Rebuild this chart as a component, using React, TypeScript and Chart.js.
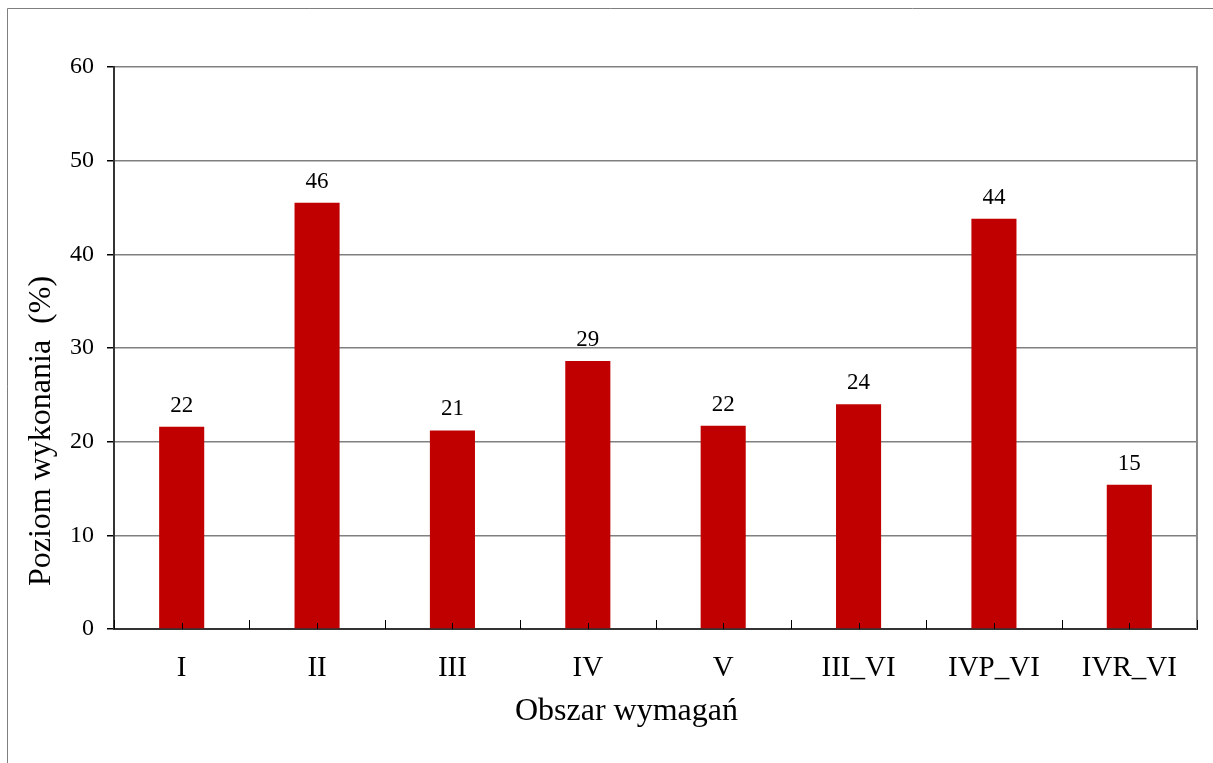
import React, { useEffect, useRef } from "react";
import { Chart, registerables } from "chart.js";

Chart.register(...registerables);

const categories = ["I", "II", "III", "IV", "V", "III_VI", "IVP_VI", "IVR_VI"];
const values = [21.6, 45.5, 21.2, 28.6, 21.7, 24.0, 43.8, 15.4];
const yMin = 0;
const yMax = 60;
const yStep = 10;
const xTitle = "Obszar wymagań";
const yTitle = "Poziom wykonania  (%)";

const FONT = "'Liberation Serif', 'Times New Roman', serif";
const BAR_COLOR = "#C00000";

const decorPlugin = {
  id: "decor",
  beforeDraw(chart: any) {
    const { ctx, width, height } = chart;
    ctx.save();
    ctx.fillStyle = "#ffffff";
    ctx.fillRect(0, 0, width, height);
    ctx.strokeStyle = "#7f7f7f";
    ctx.lineWidth = 1;
    ctx.beginPath();
    ctx.moveTo(7.5, height + 5);
    ctx.lineTo(7.5, 8.5);
    ctx.lineTo(width + 5, 8.5);
    ctx.stroke();
    ctx.restore();
  },
  afterDraw(chart: any) {
    const { ctx, chartArea: a, scales } = chart;
    const xs = scales.x;
    ctx.save();
    // right border of plot area
    ctx.strokeStyle = "#8a8a8a";
    ctx.lineWidth = 2;
    ctx.beginPath();
    ctx.moveTo(Math.round(a.right), a.top - 1);
    ctx.lineTo(Math.round(a.right), a.bottom);
    ctx.stroke();

    // x tick marks (inside, upward)
    ctx.strokeStyle = "#000";
    ctx.lineWidth = 1;
    ctx.beginPath();
    for (let i = 0; i <= categories.length; i++) {
      const bx = Math.round(xs.getPixelForValue(i - 0.5)) + 0.5;
      ctx.moveTo(bx, a.bottom);
      ctx.lineTo(bx, a.bottom - 9);
    }
    for (let i = 0; i < categories.length; i++) {
      const cx = Math.round(xs.getPixelForValue(i)) + 0.5;
      ctx.moveTo(cx, a.bottom);
      ctx.lineTo(cx, a.bottom - 6);
    }
    ctx.stroke();

    // data labels
    const meta = chart.getDatasetMeta(0);
    ctx.fillStyle = "#000";
    ctx.font = `23px ${FONT}`;
    ctx.textAlign = "center";
    ctx.textBaseline = "alphabetic";
    meta.data.forEach((bar: any, i: number) => {
      ctx.fillText(String(Math.round(values[i])), bar.x, bar.y - 15);
    });

    // axis titles
    ctx.font = `32px ${FONT}`;
    ctx.textAlign = "center";
    ctx.textBaseline = "alphabetic";
    ctx.fillText(xTitle, (a.left + a.right) / 2 - 29, 720);

    ctx.save();
    ctx.translate(50, (a.top + a.bottom) / 2 + 83);
    ctx.rotate(-Math.PI / 2);
    ctx.fillText(yTitle, 0, 0);
    ctx.restore();

    ctx.restore();
  },
};

export default function App() {
  const canvasRef = useRef<HTMLCanvasElement | null>(null);

  useEffect(() => {
    document.body.style.margin = "0";
    const canvas = canvasRef.current;
    if (!canvas) return;
    const chart = new Chart(canvas, {
      type: "bar",
      data: {
        labels: categories,
        datasets: [
          {
            data: values,
            backgroundColor: BAR_COLOR,
            borderWidth: 0,
            categoryPercentage: 1,
            barPercentage: 0.333,
          },
        ],
      },
      options: {
        responsive: false,
        animation: false,
        devicePixelRatio: 1,
        layout: { padding: { top: 67, right: 16, left: 0, bottom: 0 } },
        plugins: {
          legend: { display: false },
          tooltip: { enabled: false },
          title: { display: false },
        },
        scales: {
          x: {
            grid: { display: false },
            border: { display: true, color: "#333", width: 2 },
            ticks: {
              color: "#000",
              font: { family: FONT, size: 29 },
              padding: 14,
              maxRotation: 0,
              autoSkip: false,
            },
            afterFit(scale: any) {
              scale.height = 134;
            },
          },
          y: {
            min: yMin,
            max: yMax,
            ticks: {
              stepSize: yStep,
              color: "#000",
              font: { family: FONT, size: 24 },
              padding: 13,
            },
            grid: {
              color: (c: any) => (c.tick && c.tick.value === yMin ? "rgba(0,0,0,0)" : "#808080"),
              lineWidth: 1.5,
              tickColor: "#000",
              tickLength: 7,
              drawTicks: true,
            },
            border: { display: true, color: "#333", width: 2 },
            afterFit(scale: any) {
              scale.width = 114;
            },
          },
        },
      },
      plugins: [decorPlugin],
    });
    return () => chart.destroy();
  }, []);

  return (
    <canvas
      ref={canvasRef}
      width={1213}
      height={763}
      style={{ display: "block", width: 1213, height: 763 }}
    />
  );
}
